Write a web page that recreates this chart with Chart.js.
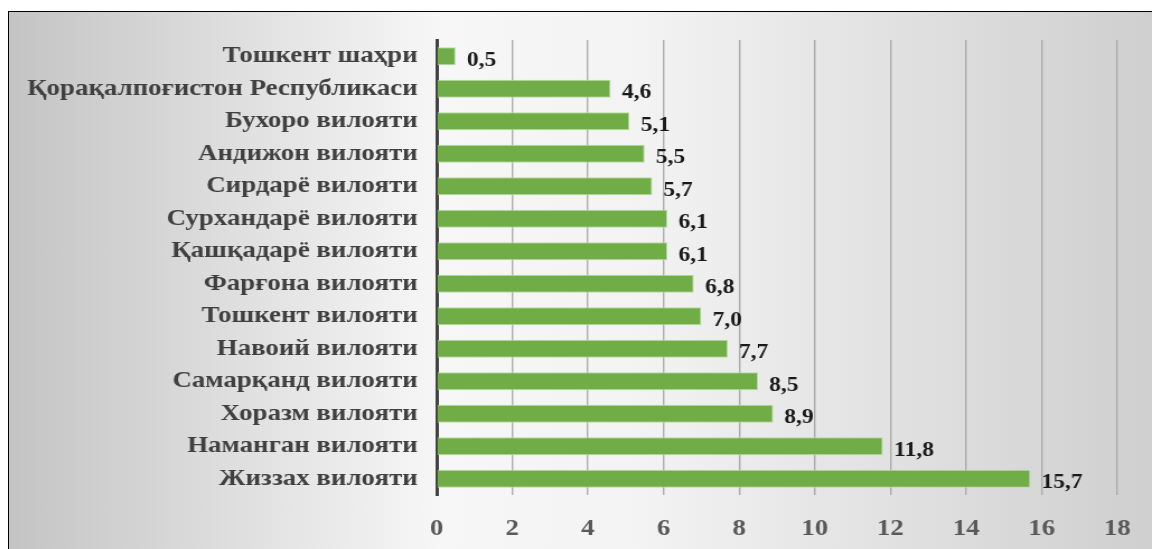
<!DOCTYPE html>
<html>
<head>
<meta charset="utf-8">
<script src="https://cdn.jsdelivr.net/npm/chart.js@4/dist/chart.umd.min.js"></script>
<style>
  body { margin: 0; background: #fff; overflow: hidden; }
  #wrap {
    position: absolute; left: 8px; top: 11px;
    width: 1143px; height: 537px;
    border: 1px solid #000;
    background: linear-gradient(to right, #c4c4c4 0%, #f7f7f7 38%, #f3f3f3 55%, #cfcfcf 100%);
  }
  /* the source picture is stretched a little horizontally */
  #barChart { width: 1143px; height: 537px; display: block; }
</style>
</head>
<body>
<div id="wrap"><canvas id="barChart" width="1021" height="537" style="width:1143px;height:537px"></canvas></div>
<script>
// Регионлар ва қийматлар (юқоридан пастга)
const regions = [
  'Тошкент шаҳри',
  'Қорақалпоғистон Республикаси',
  'Бухоро вилояти',
  'Андижон вилояти',
  'Сирдарё вилояти',
  'Сурхандарё вилояти',
  'Қашқадарё вилояти',
  'Фарғона вилояти',
  'Тошкент вилояти',
  'Навоий вилояти',
  'Самарқанд вилояти',
  'Хоразм вилояти',
  'Наманган вилояти',
  'Жиззах вилояти'
];
const values = [0.5, 4.6, 5.1, 5.5, 5.7, 6.1, 6.1, 6.8, 7.0, 7.7, 8.5, 8.9, 11.8, 15.7];
const xTicks = [0, 2, 4, 6, 8, 10, 12, 14, 16, 18];

const serif = '"Liberation Serif", "Times New Roman", serif';

// Қиймат ёрлиқлари
const valueLabels = {
  id: 'valueLabels',
  afterDatasetsDraw(chart) {
    const ctx = chart.ctx;
    const meta = chart.getDatasetMeta(0);
    ctx.save();
    ctx.font = 'bold 21px ' + serif;
    ctx.fillStyle = '#1a1a1a';
    ctx.textAlign = 'left';
    ctx.textBaseline = 'middle';
    meta.data.forEach((bar, i) => {
      const txt = values[i].toFixed(1).replace('.', ',');
      ctx.fillText(txt, bar.x + 10, bar.y + 4);
    });
    ctx.restore();
  }
};

const ctx = document.getElementById('barChart').getContext('2d');
new Chart(ctx, {
  type: 'bar',
  data: {
    labels: regions,
    datasets: [{
      data: values,
      backgroundColor: '#70ad47',
      borderColor: '#b7dba0',
      borderWidth: 1,
      categoryPercentage: 1,
      barPercentage: 0.56
    }]
  },
  options: {
    indexAxis: 'y',
    responsive: false,
    devicePixelRatio: 1,
    animation: false,
    layout: { padding: { top: 28, right: 25, left: 0, bottom: 0 } },
    plugins: {
      legend: { display: false },
      tooltip: { enabled: false }
    },
    scales: {
      x: {
        min: 0,
        max: 18,
        afterBuildTicks: s => { s.ticks = xTicks.map(v => ({ value: v })); },
        afterFit: s => { s.height = 54; },
        grid: { color: '#ababab', lineWidth: 1.4, drawTicks: false },
        border: { display: false },
        ticks: {
          padding: 19,
          color: '#595959',
          font: { family: serif, size: 24, weight: 'bold' }
        }
      },
      y: {
        afterFit: s => { s.width = 382; s.paddingTop = 0; s.paddingBottom = 0; },
        grid: { display: false, drawTicks: false },
        border: { display: true, color: '#404040', width: 3 },
        ticks: {
          padding: 17,
          color: '#404040',
          font: { family: serif, size: 24, weight: 'bold' }
        }
      }
    }
  },
  plugins: [valueLabels]
});
</script>
</body>
</html>
